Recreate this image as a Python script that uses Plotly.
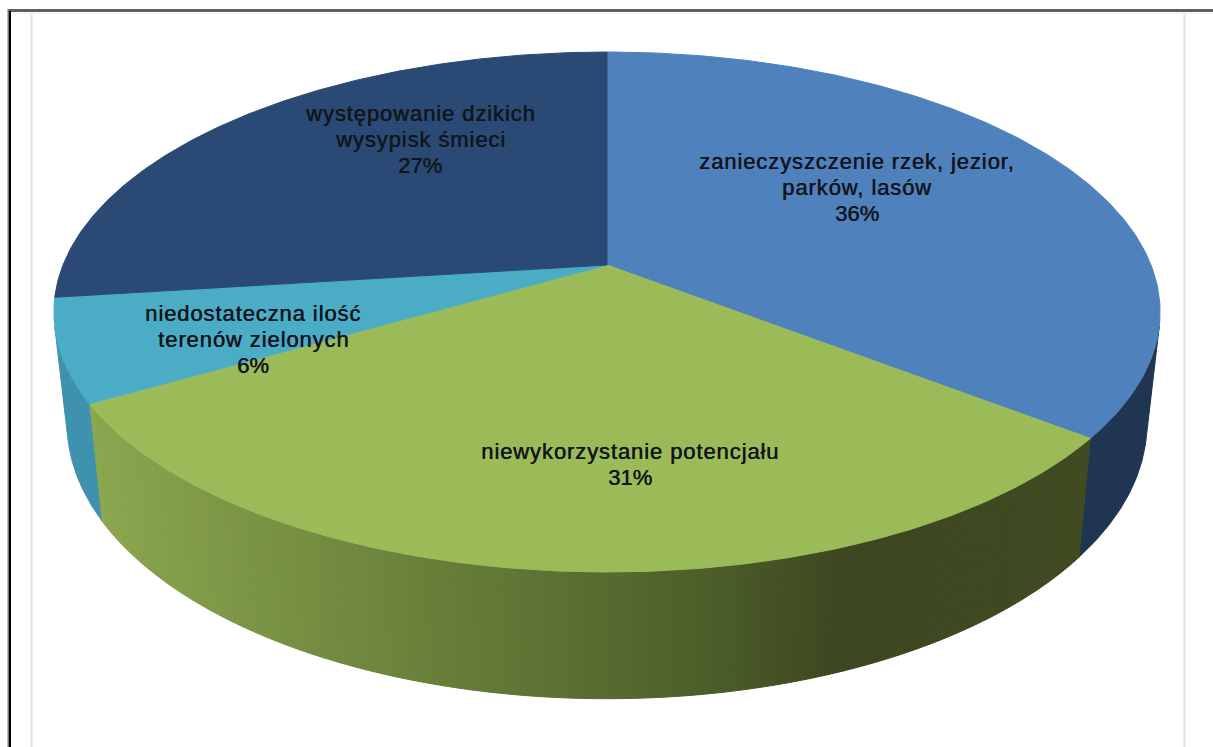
import numpy as np
import plotly.graph_objects as go

# Data
categories = [
    ["zanieczyszczenie rzek, jezior,", "parków, lasów"],
    ["niewykorzystanie potencjału"],
    ["niedostateczna ilość", "terenów zielonych"],
    ["występowanie dzikich", "wysypisk śmieci"],
]
values = [35.5, 31.1, 6.4, 27.0]
percent_labels = ["36%", "31%", "6%", "27%"]

# Styles
top_colors = ["#4F81BD", "#9BBB59", "#4BACC6", "#2A4A75"]
side_colors = ["#1F3552", None, "#3F92AD", None]
label_x = [857, 630, 253, 420]
label_y = [187, 464, 339, 139]
LINE_GAP = 26
green_stops = [(100, (139, 167, 80)), (300, (118, 143, 66)), (500, (98, 120, 54)),
               (700, (78, 95, 42)), (850, (60, 70, 32)), (1090, (66, 76, 35))]

W, H = 1213, 747
CX, CY = 607, 265
K = 0.1808
A_TOP, B_TOP = 544.0, 251.5
A_BOT, B_BOT, Y_BOT = 531.0, 266.0, 374.0


def top_pt(t):
    X, Y = np.sin(t), -np.cos(t)
    d = 1 - K * Y
    return CX + A_TOP * X / d, CY + B_TOP * Y / d


def bot_pt(t):
    X, Y = np.sin(t), -np.cos(t)
    d = 1 - K * Y
    return CX + A_BOT * X / d, Y_BOT + B_BOT * Y / d


def green_at(x):
    xs = [s[0] for s in green_stops]
    rgb = [np.interp(x, xs, [s[1][i] for s in green_stops]) for i in range(3)]
    return "rgb(%d,%d,%d)" % tuple(int(v) for v in rgb)


def tangent(sign):
    """Common outer tangent of the two rims on the right (+1) or left (-1)."""
    grid = np.radians(np.arange(0, 360, 0.1))
    tx, ty = top_pt(grid)
    bx, by = bot_pt(grid)
    best, out = 1e9, None
    for phi in np.radians(np.arange(0, 60, 0.05)):
        nx, ny = sign * np.cos(phi), np.sin(phi)
        pt, pb = tx * nx + ty * ny, bx * nx + by * ny
        gap = abs(pt.max() - pb.max())
        if gap < best:
            best, out = gap, (grid[pt.argmax()], grid[pb.argmax()])
    return out


edges = np.radians(np.concatenate([[0], np.cumsum(values)]) * 3.6)
fig = go.Figure()


def poly(xs, ys, color):
    fig.add_trace(go.Scatter(x=xs, y=ys, mode="lines", fill="toself", fillcolor=color,
                             line=dict(color=color, width=1), hoverinfo="skip", showlegend=False))


def side(t_top, t_bot, t_edge, color):
    """Wall from the outer tangent to a slice edge."""
    tt = np.linspace(t_top, t_edge, 120)
    tb = np.linspace(t_edge, t_bot, 120)
    tx, ty = top_pt(tt)
    bx, by = bot_pt(tb)
    poly(np.r_[tx, bx, tx[0]], np.r_[ty, by, ty[0]], color)


# walls
ra, rb = tangent(1)
side(ra, rb, edges[1], side_colors[0])
la, lb = tangent(-1)
side(la, lb, edges[2], side_colors[2])
steps = np.linspace(edges[1], edges[2], 221)
for a, b in zip(steps[:-1], steps[1:]):
    tt = np.array([a, b])
    tx, ty = top_pt(tt)
    bx, by = bot_pt(tt)
    poly([tx[0], tx[1], bx[1], bx[0], tx[0]], [ty[0], ty[1], by[1], by[0], ty[0]],
         green_at((tx.mean() + bx.mean()) / 2))

# top faces
for i, c in enumerate(top_colors):
    tt = np.linspace(edges[i], edges[i + 1], 200)
    x, y = top_pt(tt)
    poly(np.r_[CX, x, CX], np.r_[CY, y, CY], c)

# labels
for name, pct, x, y in zip(categories, percent_labels, label_x, label_y):
    rows = [(n, 0.9) for n in name] + [(pct, 0)]
    for i, (row, spacing) in enumerate(rows):
        fig.add_annotation(
            x=x, y=y + (i - (len(rows) - 1) / 2) * LINE_GAP,
            text=f'<span style="letter-spacing:{spacing}px">{row}</span>',
            showarrow=False, align="center", xanchor="center", yanchor="middle",
            font=dict(family="Liberation Sans", size=22, color="#12151c",
                      shadow="0.5px 0 0.3px #12151c"))

# frame
frame = [
    dict(x0=31.5, x1=31.5, y0=13, y1=H, line=dict(color="#E2E2E2", width=2)),
    dict(x0=1184.5, x1=1184.5, y0=13, y1=H, line=dict(color="#E2E2E2", width=2)),
    dict(x0=11, x1=W, y0=13, y1=13, line=dict(color="#F0F0F0", width=1)),
    dict(x0=8, x1=W, y0=10.5, y1=10.5, line=dict(color="#606060", width=3)),
    dict(x0=8.25, x1=8.25, y0=9, y1=H, line=dict(color="#777777", width=1.5)),
    dict(x0=10, x1=10, y0=11, y1=H, line=dict(color="#000000", width=2)),
]
for s in frame:
    fig.add_shape(type="line", xref="x", yref="y", layer="above", **s)

fig.update_layout(
    width=W, height=H, margin=dict(l=0, r=0, t=0, b=0), autosize=False,
    paper_bgcolor="white", plot_bgcolor="white", showlegend=False,
    xaxis=dict(range=[0, W], visible=False, fixedrange=True),
    yaxis=dict(range=[H, 0], visible=False, fixedrange=True),
)
fig.write_html("out.html", config={"displayModeBar": False},
               default_width=f"{W}px", default_height=f"{H}px",
               post_script="document.body.style.margin='0';")
